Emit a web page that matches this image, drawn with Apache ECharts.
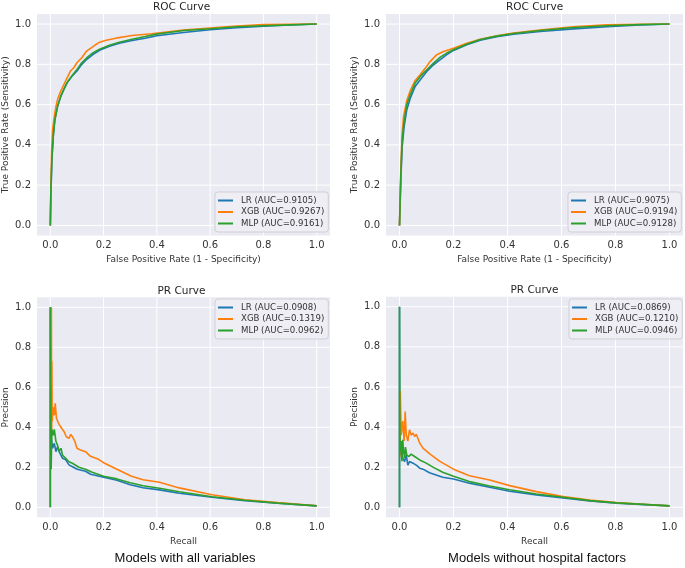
<!DOCTYPE html>
<html>
<head>
<meta charset="utf-8">
<script src="https://cdn.jsdelivr.net/npm/echarts@6/dist/echarts.min.js"></script>
<style>html,body{margin:0;padding:0;background:#fff}#c{width:685px;height:568px}</style>
</head>
<body>
<div id="c"></div>
<script>
// ---------- data ----------
const tickValues = [0, 0.2, 0.4, 0.6, 0.8, 1.0];
const panelTitles = ['ROC Curve', 'ROC Curve', 'PR Curve', 'PR Curve'];
const xNames = ['False Positive Rate (1 - Specificity)', 'False Positive Rate (1 - Specificity)', 'Recall', 'Recall'];
const yNames = ['True Positive Rate (Sensitivity)', 'True Positive Rate (Sensitivity)', 'Precision', 'Precision'];
const captions = ['Models with all variables', 'Models without hospital factors'];
const modelNames = ['LR', 'XGB', 'MLP'];
const aucRocAll = ['0.9105', '0.9267', '0.9161'];
const aucRocNo = ['0.9075', '0.9194', '0.9128'];
const aucPrAll = ['0.0908', '0.1319', '0.0962'];
const aucPrNo = ['0.0869', '0.1210', '0.0946'];

const rocAll_LR = [[0,0],[0.002,0.14],[0.006,0.325],[0.011,0.44],[0.017,0.525],[0.027,0.59],[0.039,0.64],[0.051,0.675],[0.063,0.708],[0.082,0.742],[0.1,0.767],[0.118,0.8],[0.137,0.825],[0.161,0.85],[0.185,0.87],[0.222,0.89],[0.259,0.905],[0.307,0.918],[0.356,0.93],[0.4,0.942],[0.5,0.958],[0.6,0.972],[0.7,0.982],[0.8,0.99],[0.9,0.995],[1,1]];
const rocAll_XGB = [[0,0],[0.0024,0.21],[0.005,0.375],[0.0085,0.475],[0.015,0.54],[0.021,0.59],[0.027,0.625],[0.039,0.667],[0.051,0.70],[0.063,0.733],[0.076,0.767],[0.088,0.783],[0.1,0.808],[0.118,0.833],[0.137,0.867],[0.155,0.883],[0.173,0.9],[0.185,0.91],[0.21,0.92],[0.246,0.93],[0.307,0.943],[0.38,0.952],[0.5,0.97],[0.6,0.98],[0.7,0.99],[0.8,0.997],[0.9,0.999],[1,1]];
const rocAll_MLP = [[0,0],[0.002,0.175],[0.006,0.34],[0.011,0.445],[0.017,0.525],[0.027,0.59],[0.039,0.64],[0.051,0.677],[0.063,0.71],[0.082,0.745],[0.1,0.775],[0.118,0.808],[0.137,0.833],[0.161,0.858],[0.185,0.875],[0.222,0.895],[0.259,0.91],[0.307,0.925],[0.356,0.938],[0.4,0.95],[0.5,0.968],[0.6,0.977],[0.7,0.987],[0.8,0.992],[0.9,0.996],[1,1]];

const rocNo_LR = [[0,0],[0.005,0.227],[0.01,0.39],[0.017,0.49],[0.027,0.575],[0.04,0.632],[0.058,0.69],[0.077,0.723],[0.101,0.765],[0.126,0.798],[0.151,0.823],[0.175,0.848],[0.2,0.869],[0.249,0.897],[0.299,0.92],[0.36,0.937],[0.422,0.95],[0.521,0.963],[0.644,0.976],[0.768,0.987],[0.891,0.995],[1,1]];
const rocNo_XGB = [[0,0],[0.005,0.29],[0.01,0.46],[0.015,0.54],[0.027,0.62],[0.04,0.67],[0.058,0.72],[0.077,0.75],[0.095,0.78],[0.114,0.815],[0.138,0.848],[0.163,0.864],[0.2,0.88],[0.249,0.905],[0.299,0.925],[0.36,0.942],[0.422,0.955],[0.521,0.97],[0.644,0.986],[0.768,0.996],[0.891,0.999],[1,1]];
const rocNo_MLP = [[0,0],[0.005,0.26],[0.01,0.425],[0.017,0.517],[0.027,0.6],[0.04,0.65],[0.058,0.707],[0.077,0.74],[0.101,0.773],[0.126,0.806],[0.151,0.836],[0.175,0.856],[0.2,0.872],[0.249,0.9],[0.299,0.923],[0.36,0.94],[0.422,0.953],[0.521,0.968],[0.644,0.983],[0.768,0.992],[0.891,0.997],[1,1]];

const prAll_LR = [[0,0],[0,1],[0.002,1],[0.0037,0.345],[0.0086,0.295],[0.015,0.32],[0.021,0.278],[0.027,0.303],[0.033,0.278],[0.046,0.245],[0.058,0.237],[0.07,0.212],[0.083,0.203],[0.101,0.19],[0.132,0.18],[0.151,0.165],[0.2,0.15],[0.25,0.135],[0.3,0.113],[0.348,0.098],[0.41,0.087],[0.484,0.07],[0.607,0.05],[0.731,0.033],[0.854,0.02],[1.0,0.007]];
const prAll_XGB = [[0.004,1.0],[0.005,0.36],[0.006,0.73],[0.007,0.43],[0.011,0.5],[0.015,0.46],[0.0185,0.52],[0.023,0.445],[0.031,0.42],[0.04,0.40],[0.052,0.378],[0.06,0.353],[0.07,0.345],[0.077,0.365],[0.085,0.348],[0.092,0.33],[0.1,0.295],[0.113,0.287],[0.132,0.278],[0.151,0.255],[0.181,0.24],[0.2,0.223],[0.25,0.19],[0.305,0.155],[0.348,0.138],[0.41,0.125],[0.484,0.097],[0.607,0.063],[0.731,0.038],[0.854,0.024],[1.0,0.008]];
const prAll_MLP = [[0,0],[0,1],[0.002,1],[0.003,0.19],[0.006,0.39],[0.011,0.36],[0.015,0.39],[0.0185,0.395],[0.021,0.33],[0.027,0.31],[0.033,0.28],[0.04,0.295],[0.046,0.26],[0.058,0.245],[0.064,0.253],[0.07,0.228],[0.083,0.22],[0.095,0.21],[0.107,0.2],[0.132,0.19],[0.157,0.175],[0.2,0.155],[0.25,0.142],[0.3,0.123],[0.348,0.108],[0.41,0.095],[0.484,0.078],[0.607,0.053],[0.731,0.035],[0.854,0.021],[1.0,0.007]];

const prNo_LR = [[0,0],[0,1],[0.001,1],[0.001,0.33],[0.004,0.26],[0.007,0.28],[0.012,0.245],[0.019,0.228],[0.025,0.26],[0.031,0.21],[0.037,0.228],[0.043,0.236],[0.05,0.22],[0.062,0.21],[0.075,0.195],[0.087,0.19],[0.111,0.172],[0.16,0.15],[0.2,0.141],[0.259,0.12],[0.334,0.1],[0.408,0.08],[0.507,0.062],[0.606,0.046],[0.705,0.032],[0.804,0.02],[1.0,0.007]];
const prNo_XGB = [[0.001,0.25],[0.003,0.58],[0.006,0.36],[0.012,0.43],[0.017,0.33],[0.021,0.478],[0.025,0.36],[0.031,0.33],[0.037,0.386],[0.043,0.36],[0.05,0.37],[0.056,0.353],[0.062,0.364],[0.068,0.344],[0.075,0.32],[0.087,0.295],[0.111,0.268],[0.148,0.23],[0.2,0.19],[0.259,0.157],[0.334,0.136],[0.408,0.108],[0.507,0.078],[0.606,0.053],[0.705,0.036],[0.804,0.023],[0.903,0.015],[1.0,0.007]];
const prNo_MLP = [[0,0],[0,1],[0.001,1],[0.001,0.51],[0.002,0.28],[0.006,0.33],[0.009,0.23],[0.012,0.336],[0.015,0.28],[0.019,0.245],[0.022,0.30],[0.027,0.26],[0.035,0.253],[0.043,0.265],[0.056,0.253],[0.075,0.236],[0.099,0.22],[0.124,0.2],[0.16,0.175],[0.2,0.155],[0.259,0.128],[0.334,0.106],[0.408,0.087],[0.507,0.066],[0.606,0.05],[0.705,0.033],[0.804,0.022],[1.0,0.007]];

// ---------- layout / style ----------
const colors = ['#1f77b4', '#ff7f0e', '#2ca02c'];
const FONT = 'DejaVu Sans';
const TXT = '#333333';
const AX_MIN = -0.05, AX_MAX = 1.05;
const grids = [
  {left: 33, top: 14, width: 297, height: 221.5},
  {left: 386, top: 14, width: 297, height: 221.5},
  {left: 33, top: 297.3, width: 297, height: 220},
  {left: 386, top: 296.7, width: 297, height: 220.6}
];
const panelData = [
  [rocAll_LR, rocAll_XGB, rocAll_MLP],
  [rocNo_LR, rocNo_XGB, rocNo_MLP],
  [prAll_LR, prAll_XGB, prAll_MLP],
  [prNo_LR, prNo_XGB, prNo_MLP]
];
const panelAuc = [aucRocAll, aucRocNo, aucPrAll, aucPrNo];
const legendPos = [
  {left: 215, top: 192},
  {left: 568, top: 192},
  {left: 215, top: 299},
  {left: 569, top: 299}
];

const xAxes = [], yAxes = [], series = [], legends = [], graphics = [];
grids.forEach((g, i) => {
  const common = {
    type: 'value', gridIndex: i, min: AX_MIN, max: AX_MAX,
    axisLine: {show: false}, axisTick: {show: false}, splitLine: {show: false},
    nameLocation: 'middle',
    nameTextStyle: {fontFamily: FONT, fontSize: 9, color: TXT}
  };
  xAxes.push(Object.assign({}, common, {
    name: xNames[i], nameGap: 20,
    axisLabel: {customValues: tickValues, formatter: v => v.toFixed(1), margin: 5,
      fontFamily: FONT, fontSize: 10, color: TXT}
  }));
  yAxes.push(Object.assign({}, common, {
    name: yNames[i], nameGap: 27,
    axisLabel: {customValues: tickValues, formatter: v => v.toFixed(1), margin: 6,
      fontFamily: FONT, fontSize: 10, color: TXT}
  }));
  // white grid lines, drawn beneath the curves
  tickValues.forEach(t => {
    [[[t, AX_MIN], [t, AX_MAX]], [[AX_MIN, t], [AX_MAX, t]]].forEach(seg => {
      series.push({
        type: 'line', xAxisIndex: i, yAxisIndex: i, data: seg, z: 1, silent: true,
        showSymbol: false, symbol: 'none', animation: false, clip: true,
        lineStyle: {color: '#ffffff', width: 1}, emphasis: {disabled: true}, tooltip: {show: false}
      });
    });
  });
  const names = [];
  panelData[i].forEach((d, k) => {
    const nm = modelNames[k] + ' (AUC=' + panelAuc[i][k] + ')';
    names.push(nm);
    series.push({
      name: nm, type: 'line', xAxisIndex: i, yAxisIndex: i, data: d,
      showSymbol: false, symbol: 'none', z: 2 + k, animation: false,
      lineStyle: {width: 1.6, color: colors[k]}, itemStyle: {color: colors[k]}
    });
  });
  legends.push({
    data: names, orient: 'vertical', left: legendPos[i].left, top: legendPos[i].top, z: 20,
    icon: 'rect', itemWidth: 15, itemHeight: 2, itemGap: 0.5, padding: [3, 4, 3, 3],
    backgroundColor: 'rgba(238,238,244,0.92)', borderColor: '#cfcfd6', borderWidth: 1, borderRadius: 3,
    selectedMode: false,
    textStyle: {fontFamily: FONT, fontSize: 8.6, color: TXT, lineHeight: 11, padding: [0, 0, 0, 3]}
  });
  graphics.push({
    type: 'text', x: g.left + g.width / 2, y: g.top - 1,
    style: {text: panelTitles[i], fontFamily: FONT, fontSize: 10.5, fill: '#262626',
      textAlign: 'center', textVerticalAlign: 'bottom'}
  });
});
graphics.push({type: 'text', x: 185, y: 558,
  style: {text: captions[0], fontFamily: 'Liberation Sans', fontSize: 13, fill: '#111',
    textAlign: 'center', textVerticalAlign: 'middle'}});
graphics.push({type: 'text', x: 537, y: 558,
  style: {text: captions[1], fontFamily: 'Liberation Sans', fontSize: 13, fill: '#111',
    textAlign: 'center', textVerticalAlign: 'middle'}});

const chart = echarts.init(document.getElementById('c'), null, {renderer: 'canvas'});
chart.setOption({
  animation: false,
  backgroundColor: '#ffffff',
  grid: grids.map(g => Object.assign({show: true, backgroundColor: '#EAEAF2', borderWidth: 0}, g)),
  xAxis: xAxes, yAxis: yAxes, series: series, legend: legends, graphic: graphics
});
</script>
</body>
</html>
